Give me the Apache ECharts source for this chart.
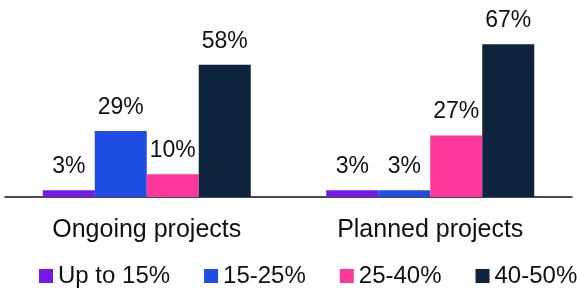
<!DOCTYPE html>
<html>
<head>
<meta charset="utf-8">
<script src="https://cdn.jsdelivr.net/npm/echarts@6/dist/echarts.min.js"></script>
<style>
  html, body { margin: 0; padding: 0; background: #fff; }
  #chart { width: 577px; height: 290px; }
</style>
</head>
<body>
<div id="chart"></div>
<script>
// categories and series (percent of projects)
var categories = ['Ongoing projects', 'Planned projects'];
var seriesNames = ['Up to 15%', '15-25%', '25-40%', '40-50%'];
var upTo15 = [3, 3];
var from15to25 = [29, 3];
var from25to40 = [10, 27];
var from40to50 = [58, 67];
var colors = ['#7519e8', '#1e4ee3', '#ff379a', '#0e233c'];

var font = 'Liberation Sans, Arial, sans-serif';
var chart = echarts.init(document.getElementById('chart'));

function makeSeries(name, data, color) {
    return {
        name: name,
        type: 'bar',
        data: data,
        barWidth: 52,
        barGap: '0%',
        itemStyle: { color: color },
        label: {
            show: true,
            position: 'top',
            distance: 12,
            formatter: '{c}%',
            color: '#111',
            fontSize: 23,
            fontFamily: font
        }
    };
}

var option = {
    animation: false,
    grid: { left: 5, right: 5, top: 1, bottom: 93 },
    legend: {
        data: seriesNames,
        left: 39,
        top: 264,
        width: 545,
        padding: 0,
        itemWidth: 14,
        itemHeight: 14,
        itemGap: 34,
        icon: 'rect',
        textStyle: { fontSize: 24, color: '#111', fontFamily: font }
    },
    xAxis: {
        type: 'category',
        data: categories,
        axisLine: { lineStyle: { color: '#111', width: 1.5 } },
        axisTick: { show: false },
        axisLabel: { fontSize: 25, color: '#111', fontFamily: font, margin: 21 }
    },
    yAxis: {
        type: 'value',
        min: 0,
        max: 86,
        show: false,
        splitLine: { show: false }
    },
    series: [
        makeSeries(seriesNames[0], upTo15, colors[0]),
        makeSeries(seriesNames[1], from15to25, colors[1]),
        makeSeries(seriesNames[2], from25to40, colors[2]),
        makeSeries(seriesNames[3], from40to50, colors[3])
    ]
};
chart.setOption(option);
</script>
</body>
</html>
